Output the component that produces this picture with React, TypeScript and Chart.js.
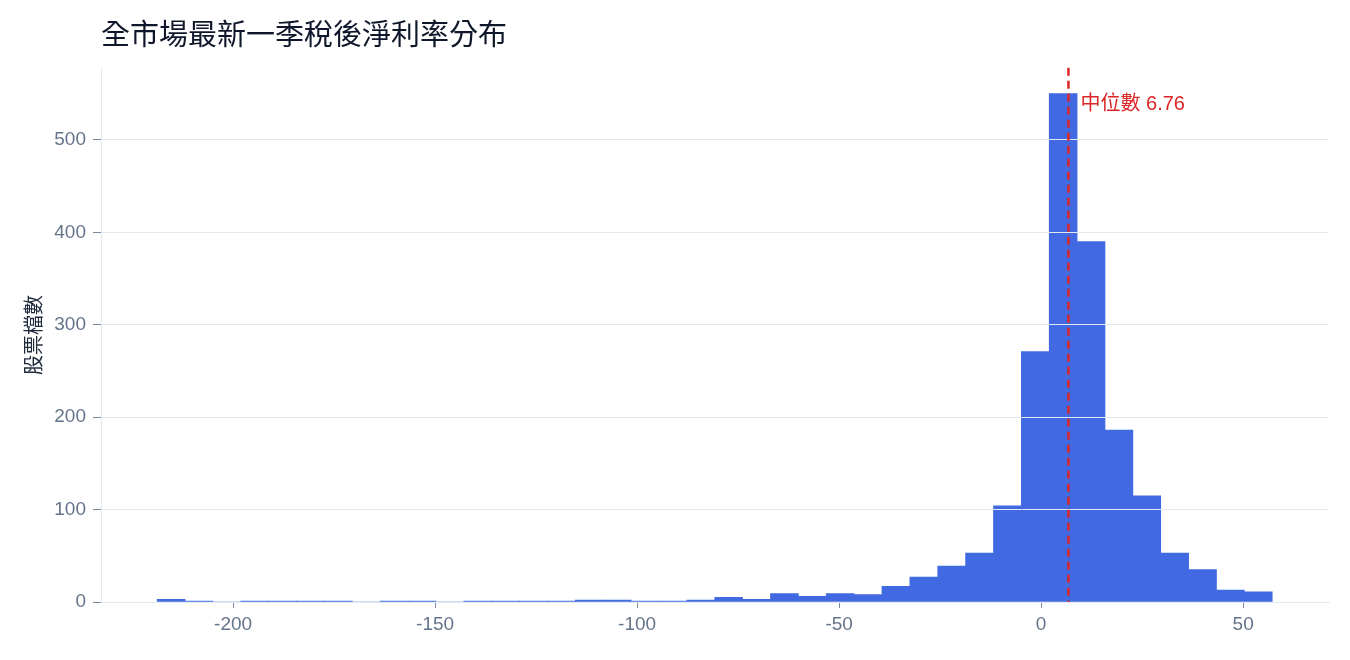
import React, { useEffect, useRef } from 'react';
import { Chart, registerables } from 'chart.js';

Chart.register(...registerables);

// histogram bins: first bin starts at binStart, every bin is binWidth wide
const binStart = -218.8;
const binWidth = 6.9;
const binCounts = [
    3, 1, 0, 1, 1, 1, 1, 0, 1, 1,
    0, 1, 1, 1, 1, 2, 2, 1, 1, 2,
    5, 3, 9, 6, 9, 8, 17, 27, 39, 53,
    104, 271, 550, 390, 186, 115, 53, 35, 13, 11,
];
const medianValue = 6.76;
const xTicks = [-200, -150, -100, -50, 0, 50];
const yTicks = [0, 100, 200, 300, 400, 500];

const FONT = "'Liberation Sans', 'Noto Sans CJK TC', sans-serif";
const CJK = "'Noto Sans CJK TC', 'Liberation Sans', sans-serif";

const medianPlugin = {
    id: 'medianLine',
    afterDraw(chart: any) {
        const { ctx, chartArea, scales } = chart;
        const x = scales.x.getPixelForValue(medianValue);
        ctx.save();
        ctx.strokeStyle = '#dc2626';
        ctx.lineWidth = 2.5;
        ctx.setLineDash([8, 5]);
        ctx.beginPath();
        ctx.moveTo(x, chartArea.top);
        ctx.lineTo(x, chartArea.bottom);
        ctx.stroke();
        ctx.setLineDash([]);
        ctx.fillStyle = '#dc2626';
        ctx.font = `20px ${FONT}`;
        ctx.textAlign = 'left';
        ctx.textBaseline = 'middle';
        ctx.fillText(`中位數 ${medianValue}`, x + 12, chartArea.top + 37);
        ctx.restore();
    },
};

const MarginHistogram: React.FC = () => {
    const chartRef = useRef<HTMLCanvasElement | null>(null);

    useEffect(() => {
        const points = binCounts.map((c, i) => ({
            x: binStart + (i + 0.5) * binWidth,
            y: c,
        }));

        const ctx = chartRef.current?.getContext('2d');
        if (!ctx) return;

        const chart = new Chart(ctx, {
            type: 'bar',
            data: {
                datasets: [{
                    data: points,
                    backgroundColor: '#4169e1',
                    borderWidth: 0,
                    barPercentage: 1,
                    categoryPercentage: 1,
                }],
            },
            options: {
                animation: false,
                responsive: true,
                maintainAspectRatio: false,
                layout: { padding: { left: 0, right: 22, top: 0, bottom: 0 } },
                plugins: {
                    legend: { display: false },
                    tooltip: { enabled: false },
                    title: {
                        display: true,
                        text: '全市場最新一季稅後淨利率分布',
                        align: 'start',
                        fullSize: false,
                        color: '#0f172a',
                        font: { family: CJK, size: 29, weight: 'normal' },
                        padding: { top: 17, bottom: 16 },
                    },
                },
                scales: {
                    x: {
                        type: 'linear',
                        min: -232.7,
                        max: 71,
                        offset: false,
                        afterFit: (s: any) => { s.height = 58; },
                        afterBuildTicks: (s: any) => { s.ticks = xTicks.map((v) => ({ value: v })); },
                        grid: {
                            offset: false,
                            drawOnChartArea: false,
                            tickLength: 6,
                            tickColor: '#7c8aa0',
                        },
                        border: { color: '#d5dbe5' },
                        ticks: {
                            color: '#64748b',
                            font: { family: FONT, size: 19 },
                            padding: 5,
                            maxRotation: 0,
                        },
                    },
                    y: {
                        min: 0,
                        max: 578,
                        afterFit: (s: any) => { s.width = 101; },
                        afterBuildTicks: (s: any) => { s.ticks = yTicks.map((v) => ({ value: v })); },
                        grid: {
                            z: 1,
                            color: '#e2e8f0',
                            tickLength: 8,
                            tickColor: '#7c8aa0',
                        },
                        border: { color: '#e2e8f0', z: 1 },
                        ticks: {
                            color: '#64748b',
                            font: { family: FONT, size: 19 },
                            padding: 7,
                        },
                        title: {
                            display: true,
                            text: '股票檔數',
                            color: '#1e293b',
                            font: { family: CJK, size: 20 },
                            padding: { top: 21, bottom: 0 },
                        },
                    },
                },
            },
            plugins: [medianPlugin],
        });

        return () => {
            chart.destroy();
        };
    }, []);

    return (
        <div style={{ position: 'absolute', left: 0, top: 0, width: 1350, height: 660, background: '#fff' }}>
            <canvas ref={chartRef}></canvas>
        </div>
    );
};

export default function App() {
    return <MarginHistogram />;
}
